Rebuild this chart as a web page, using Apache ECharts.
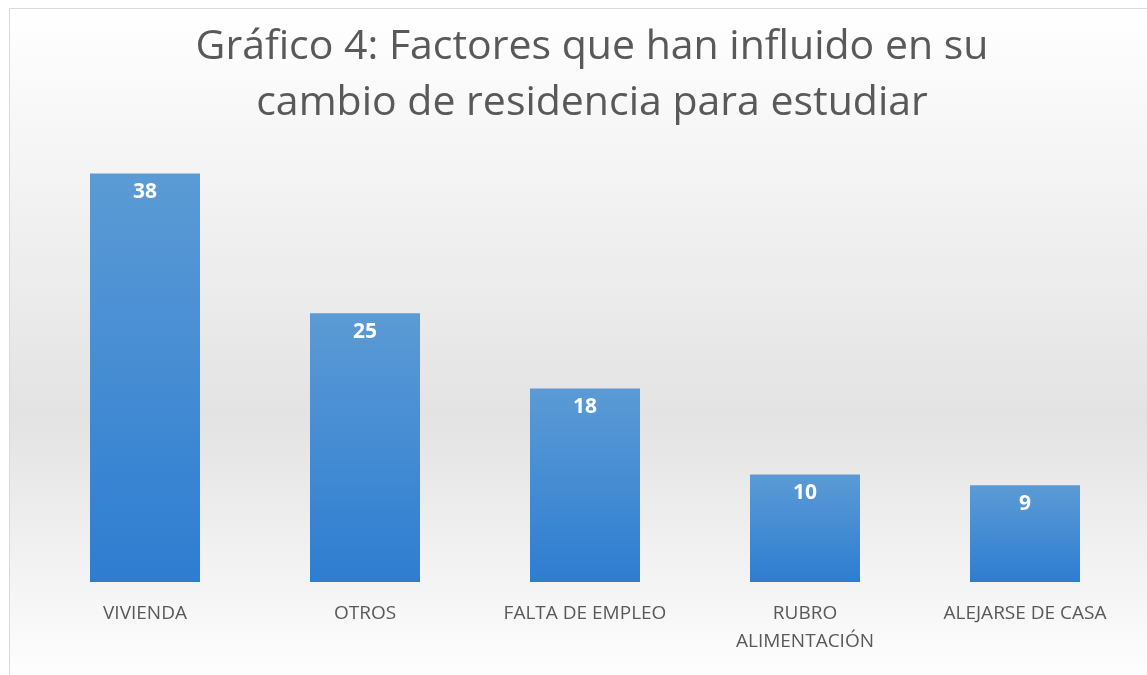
<!DOCTYPE html>
<html>
<head>
<meta charset="utf-8">
<script src="https://cdn.jsdelivr.net/npm/echarts@6/dist/echarts.min.js"></script>
<style>
  html, body { margin: 0; padding: 0; background: #fff; }
  #chart { width: 1147px; height: 675px; }
</style>
</head>
<body>
<div id="chart"></div>
<script>
// datos
var categorias = ['VIVIENDA', 'OTROS', 'FALTA DE EMPLEO', 'RUBRO\nALIMENTACIÓN', 'ALEJARSE DE CASA'];
var valores = [38, 25, 18, 10, 9];
var titulo = 'Gráfico 4: Factores que han influido en su\ncambio de residencia para estudiar';

var chart = echarts.init(document.getElementById('chart'));

var option = {
  animation: false,
  graphic: [
    {
      type: 'rect',
      z: -10,
      silent: true,
      shape: { x: 9.5, y: 8.5, width: 1150, height: 680 },
      style: {
        fill: new echarts.graphic.LinearGradient(0, 0, 0, 1, [
          { offset: 0, color: '#ffffff' },
          { offset: 0.6, color: '#e3e3e3' },
          { offset: 1, color: '#ffffff' }
        ]),
        stroke: '#d9d9d9',
        lineWidth: 1
      }
    }
  ],
  title: {
    text: titulo,
    left: 587,
    textAlign: 'center',
    top: 14,
    textStyle: {
      fontFamily: 'Open Sans',
      fontSize: 41,
      fontWeight: 'normal',
      color: '#595959',
      lineHeight: 56
    }
  },
  grid: {
    left: 35,
    right: 12,
    top: 152,
    bottom: 93
  },
  xAxis: {
    type: 'category',
    data: categorias,
    axisLine: { show: false },
    axisTick: { show: false },
    axisLabel: {
      margin: 18,
      fontFamily: 'Open Sans',
      fontSize: 19,
      color: '#595959',
      lineHeight: 28
    }
  },
  yAxis: {
    type: 'value',
    min: 0,
    max: 40,
    show: false,
    splitLine: { show: false }
  },
  series: [
    {
      type: 'bar',
      data: valores,
      barWidth: '50%',
      itemStyle: {
        color: new echarts.graphic.LinearGradient(0, 0, 0, 1, [
          { offset: 0, color: '#5b9bd5' },
          { offset: 1, color: '#2e7dd1' }
        ])
      },
      label: {
        show: true,
        position: 'insideTop',
        distance: 8,
        color: '#ffffff',
        fontFamily: 'Open Sans',
        fontWeight: 'bold',
        fontSize: 21
      }
    }
  ]
};

chart.setOption(option);
window.addEventListener('resize', function() {
  chart.resize();
});
</script>
</body>
</html>
